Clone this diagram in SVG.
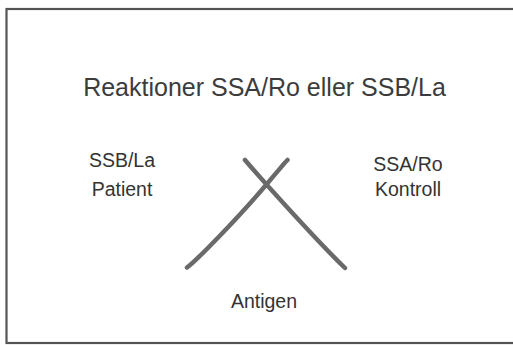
<svg xmlns="http://www.w3.org/2000/svg" width="513" height="345" viewBox="0 0 513 345">
<style>
text{font-family:"Liberation Sans",Arial,sans-serif;fill:#333;text-anchor:middle}
.t{font-size:25px;fill:#3c3c3c}
.l{font-size:19.5px}
.x{fill:none;stroke:#6a6a6a;stroke-width:4.5;stroke-linecap:round}
</style>
<rect x="0" y="0" width="513" height="345" fill="#fff"/>
<rect id="frame" x="6.5" y="9" width="520" height="334" fill="none" stroke="#555" stroke-width="2.2"/>
<g id="title"><text class="t" x="264.5" y="96">Reaktioner SSA/Ro eller SSB/La</text></g>
<g id="patient"><text class="l" x="122" y="167">SSB/La</text><text class="l" x="122" y="196">Patient</text></g>
<g id="kontroll"><text class="l" x="408" y="171">SSA/Ro</text><text class="l" x="408" y="196">Kontroll</text></g>
<g id="antigen"><text class="l" x="264" y="308">Antigen</text></g>
<g id="connectors">
<path class="x" d="M187,267.5 C196,261 238,218 266,185 S282,166 287.5,160"/>
<path class="x" d="M245,160 C262,180 318,242 345,268"/>
</g>
</svg>
